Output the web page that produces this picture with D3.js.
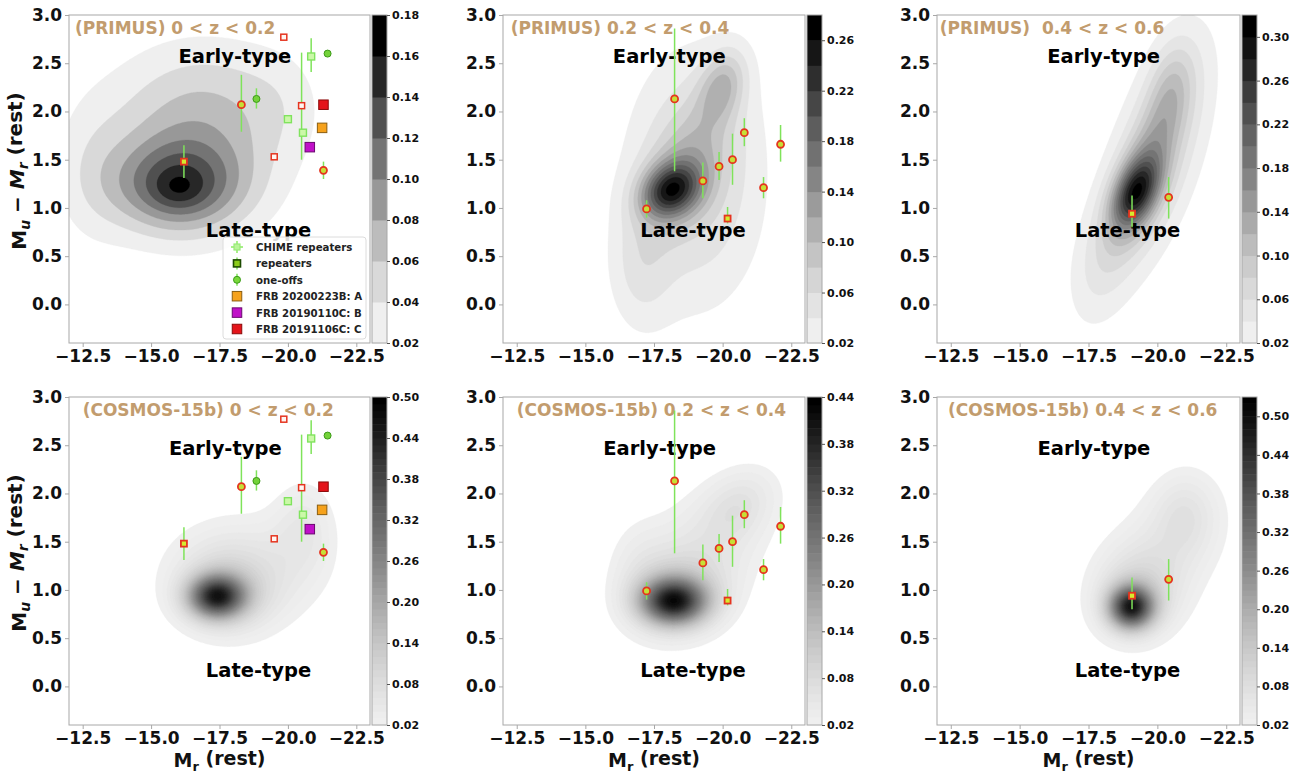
<!DOCTYPE html>
<html>
<head>
<meta charset="utf-8">
<script src="https://cdn.jsdelivr.net/npm/d3@7"></script>
<style>
  body { margin: 0; background: #fff; }
  svg text { font-family: "DejaVu Sans", sans-serif; font-weight: bold; }
</style>
</head>
<body>
<svg id="fig" width="1301" height="775"></svg>
<script>
// ---- data ----
const xDomain = [-12, -23];
const yDomain = [-0.4, 3.0];
const xTickVals = [-12.5, -15.0, -17.5, -20.0, -22.5];
const yTickVals = [0.0, 0.5, 1.0, 1.5, 2.0, 2.5, 3.0];

const titles = ["(PRIMUS) 0 < z < 0.2", "(PRIMUS) 0.2 < z < 0.4", "(PRIMUS)\u00a0 0.4 < z < 0.6",
                "(COSMOS-15b) 0 < z < 0.2", "(COSMOS-15b) 0.2 < z < 0.4", "(COSMOS-15b) 0.4 < z < 0.6"];
const titleX = [-12.22, -12.28, -12.1, -12.5, -12.5, -12.4];

const cbarTop = [0.18, 0.28, 0.32, 0.50, 0.44, 0.53];
const cbarStep = [0.02, 0.02, 0.02, 0.01, 0.01, 0.01];
const cbarTicks = [
  [0.02, 0.04, 0.06, 0.08, 0.10, 0.12, 0.14, 0.16, 0.18],
  [0.02, 0.06, 0.10, 0.14, 0.18, 0.22, 0.26],
  [0.02, 0.06, 0.10, 0.14, 0.18, 0.22, 0.26, 0.30],
  [0.02, 0.08, 0.14, 0.20, 0.26, 0.32, 0.38, 0.44, 0.50],
  [0.02, 0.08, 0.14, 0.20, 0.26, 0.32, 0.38, 0.44],
  [0.02, 0.08, 0.14, 0.20, 0.26, 0.32, 0.38, 0.44, 0.50]
];

// galaxy density, as gaussian pieces: [Mr, color, sigmaMr, sigmaColor, rho, peak]
const kdePrimus1 = [
  [-16.0, 1.22, 1.6, 0.32, 0.0, 0.095],
  [-16.3, 1.40, 2.4, 0.55, 0.0, 0.045],
  [-16.0, 1.20, 0.6, 0.13, 0.0, 0.020],
  [-17.0, 2.10, 2.4, 0.50, 0.0, 0.045],
  [-12.8, 1.35, 1.0, 0.55, 0.0, 0.020],
  [-19.8, 2.10, 1.0, 0.40, 0.0, 0.010]
];
const kdePrimus2 = [
  [-19.0, 1.30, 1.7, 0.90, 0.0, 0.065],
  [-17.0, 0.35, 0.8, 0.45, 0.0, 0.035],
  [-18.1, 1.18, 0.75, 0.20, -0.20, 0.170],
  [-18.7, 1.45, 1.1, 0.45, -0.50, 0.050],
  [-20.0, 2.27, 0.6, 0.26, -0.30, 0.075]
];
const kdePrimus3 = [
  [-19.9, 1.50, 1.4, 0.85, -0.60, 0.070],
  [-19.2, 1.15, 0.6, 0.25, -0.40, 0.170],
  [-19.5, 1.35, 0.9, 0.55, -0.70, 0.080],
  [-20.5, 2.26, 0.6, 0.35, -0.30, 0.050],
  [-17.8, 0.40, 0.8, 0.45, -0.30, 0.025]
];
const kdeCosmos1 = [
  [-17.4, 0.93, 0.7, 0.15, 0.0, 0.360],
  [-17.8, 1.00, 1.2, 0.30, 0.0, 0.080],
  [-18.4, 1.20, 2.0, 0.42, 0.0, 0.045],
  [-20.6, 1.65, 0.8, 0.35, 0.0, 0.040]
];
const kdeCosmos2 = [
  [-18.2, 0.88, 0.8, 0.16, 0.0, 0.320],
  [-18.4, 0.95, 1.2, 0.28, 0.0, 0.070],
  [-19.2, 1.35, 1.8, 0.55, -0.45, 0.050],
  [-20.6, 1.88, 0.9, 0.25, -0.30, 0.040],
  [-16.9, 1.30, 0.8, 0.35, 0.0, 0.020]
];
const kdeCosmos3 = [
  [-19.05, 0.82, 0.55, 0.15, 0.0, 0.400],
  [-19.3, 0.95, 1.0, 0.30, 0.0, 0.070],
  [-20.0, 1.30, 1.6, 0.50, -0.40, 0.050],
  [-21.0, 1.80, 0.8, 0.30, 0.0, 0.045]
];

// FRB hosts: [Mr, color, errLow, errHigh, kind]
const hostsBin1 = [
  [-19.85, 2.77, null, null, "rep"],
  [-20.85, 2.57, 2.41, 2.76, "chime"],
  [-21.45, 2.60, null, null, "one"],
  [-18.30, 2.07, 1.79, 2.38, "oneRed"],
  [-18.85, 2.13, 2.03, 2.24, "one"],
  [-20.50, 2.06, 1.50, 2.61, "rep"],
  [-20.00, 1.92, null, null, "chime"],
  [-20.55, 1.78, null, null, "chime"],
  [-21.30, 2.07, null, null, "C"],
  [-21.25, 1.83, null, null, "A"],
  [-20.80, 1.63, null, null, "B"],
  [-19.50, 1.53, null, null, "rep"],
  [-21.30, 1.39, 1.30, 1.48, "oneRed"],
  [-16.20, 1.48, 1.31, 1.65, "repFill"]
];
const hostsBin2 = [
  [-18.25, 2.13, 1.38, 2.86, "oneRed"],
  [-17.23, 0.99, 0.90, 1.08, "oneRed"],
  [-19.28, 1.28, 1.10, 1.47, "oneRed"],
  [-19.87, 1.43, 1.29, 1.58, "oneRed"],
  [-20.36, 1.50, 1.24, 1.77, "oneRed"],
  [-20.79, 1.78, 1.64, 1.93, "oneRed"],
  [-22.11, 1.66, 1.48, 1.86, "oneRed"],
  [-21.49, 1.21, 1.10, 1.32, "oneRed"],
  [-20.18, 0.89, 0.84, 1.01, "repFill"]
];
const hostsBin3 = [
  [-19.08, 0.94, 0.80, 1.13, "repFill"],
  [-20.41, 1.11, 0.89, 1.32, "oneRed"]
];

const legendLabels = ["CHIME repeaters", "repeaters", "one-offs",
                      "FRB 20200223B: A", "FRB 20190110C: B", "FRB 20191106C: C"];
const legendKinds = ["chimeLeg", "repLeg", "oneLeg", "A", "B", "C"];

// ---- styles / layout ----
const markerStyle = {
  chime:   {shape: "sq", size: 7,   fill: "#cbf8a8", stroke: "#80e35e", sw: 1.4},
  rep:     {shape: "sq", size: 6,   fill: "#fff6f2", stroke: "#e5341f", sw: 1.5},
  repFill: {shape: "sq", size: 6,   fill: "#d5ea2e", stroke: "#e5341f", sw: 1.8},
  one:     {shape: "ci", size: 7,   fill: "#74d23a", stroke: "#3c9a18", sw: 1},
  oneRed:  {shape: "ci", size: 7,   fill: "#c6df36", stroke: "#e5341f", sw: 1.8},
  A:       {shape: "sq", size: 9.5, fill: "#f6a21c", stroke: "#8b5e10", sw: 1},
  B:       {shape: "sq", size: 9.5, fill: "#c010c8", stroke: "#6a0870", sw: 1},
  C:       {shape: "sq", size: 9.5, fill: "#e4141a", stroke: "#8a0a0a", sw: 1},
  chimeLeg:{shape: "sq", size: 6,   fill: "#b8f598", stroke: "#98ea78", sw: 1.2},
  repLeg:  {shape: "sq", size: 7,   fill: "#8ccc1a", stroke: "#1c4a00", sw: 1.6},
  oneLeg:  {shape: "ci", size: 7,   fill: "#78d83a", stroke: "#3a9a18", sw: 1}
};
const errColor = "#7fe35a";
const titleColor = "#c29c6e";
const frameColor = "#a8a8a8";

const cols = [{x0: 69, x1: 370, cb0: 372}, {x0: 503, x1: 805, cb0: 807}, {x0: 937, x1: 1240, cb0: 1242}];
const rows = [{y0: 15, y1: 343}, {y0: 397, y1: 725}];
const cbW = 15;

const kdes = [kdePrimus1, kdePrimus2, kdePrimus3, kdeCosmos1, kdeCosmos2, kdeCosmos3];
const hostBins = [hostsBin1, hostsBin2, hostsBin3];

function density(comps, mx, cy) {
  let s = 0;
  comps.forEach(([cx, cc, sx, sy, rho, a]) => {
    const dx = (mx - cx) / sx, dy = (cy - cc) / sy;
    const q = (dx * dx - 2 * rho * dx * dy + dy * dy) / (1 - rho * rho);
    s += a * Math.exp(-0.5 * q);
  });
  return s;
}

function drawMarker(g, kind, px, py) {
  const st = markerStyle[kind];
  if (st.shape === "sq") {
    g.append("rect").attr("x", px - st.size / 2).attr("y", py - st.size / 2)
      .attr("width", st.size).attr("height", st.size)
      .attr("fill", st.fill).attr("stroke", st.stroke).attr("stroke-width", st.sw);
  } else {
    g.append("circle").attr("cx", px).attr("cy", py).attr("r", st.size / 2)
      .attr("fill", st.fill).attr("stroke", st.stroke).attr("stroke-width", st.sw);
  }
}

const svg = d3.select("#fig");
const defs = svg.append("defs");
const nx = 200, ny = 150;
const gx = d3.scaleLinear().domain([0, nx]).range(xDomain);
const gy = d3.scaleLinear().domain([0, ny]).range([yDomain[1], yDomain[0]]);

kdes.forEach((comps, idx) => {
  const c = cols[idx % 3], r = rows[Math.floor(idx / 3)];
  const x = d3.scaleLinear().domain(xDomain).range([c.x0, c.x1]);
  const y = d3.scaleLinear().domain(yDomain).range([r.y1, r.y0]);
  const g = svg.append("g");

  defs.append("clipPath").attr("id", "clip" + idx).append("rect")
    .attr("x", c.x0).attr("y", r.y0).attr("width", c.x1 - c.x0).attr("height", r.y1 - r.y0);

  // density grid -> filled contours
  const values = new Array(nx * ny);
  for (let j = 0; j < ny; j++)
    for (let i = 0; i < nx; i++)
      values[j * nx + i] = density(comps, gx(i + 0.5), gy(j + 0.5));

  const nBands = Math.round((cbarTop[idx] - 0.02) / cbarStep[idx]);
  const levels = d3.range(nBands + 1).map(k => +(0.02 + k * cbarStep[idx]).toFixed(3));
  const color = k => d3.interpolateGreys(0.12 + 0.88 * k / (nBands - 1));
  const proj = d3.geoTransform({point: function(px, py) { this.stream.point(x(gx(px)), y(gy(py))); }});
  const path = d3.geoPath(proj);
  const conts = d3.contours().size([nx, ny]).thresholds(levels.slice(0, nBands))(values);

  g.append("g").attr("clip-path", "url(#clip" + idx + ")")
    .selectAll("path").data(conts).join("path")
    .attr("d", path)
    .attr("fill", (d, k) => color(k))
    .attr("stroke", (d, k) => color(k))
    .attr("stroke-width", 0.3);

  // axes
  const xAxis = d3.axisBottom(x).tickValues(xTickVals).tickFormat(d3.format(".1f")).tickSize(4).tickPadding(3);
  const yAxis = d3.axisLeft(y).tickValues(yTickVals).tickFormat(d3.format(".1f")).tickSize(4).tickPadding(3);
  const ax = g.append("g").attr("transform", "translate(0," + r.y1 + ")").call(xAxis);
  const ay = g.append("g").attr("transform", "translate(" + c.x0 + ",0)").call(yAxis);
  [ax, ay].forEach(a => {
    a.select(".domain").remove();
    a.selectAll(".tick line").attr("stroke", frameColor);
    a.selectAll(".tick text").attr("fill", "#111").style("font-size", "17px");
  });
  g.append("rect").attr("x", c.x0).attr("y", r.y0).attr("width", c.x1 - c.x0).attr("height", r.y1 - r.y0)
    .attr("fill", "none").attr("stroke", frameColor).attr("stroke-width", 1);

  // colorbar
  const cy = d3.scaleLinear().domain([0.02, cbarTop[idx]]).range([r.y1, r.y0]);
  const cb = g.append("g");
  cb.selectAll("rect").data(d3.range(nBands)).join("rect")
    .attr("x", c.cb0).attr("width", cbW)
    .attr("y", k => cy(levels[k + 1]))
    .attr("height", k => cy(levels[k]) - cy(levels[k + 1]) + 0.5)
    .attr("fill", k => color(k));
  cb.append("rect").attr("x", c.cb0).attr("y", r.y0).attr("width", cbW).attr("height", r.y1 - r.y0)
    .attr("fill", "none").attr("stroke", frameColor).attr("stroke-width", 1);
  const cAxis = d3.axisRight(cy).tickValues(cbarTicks[idx]).tickFormat(d3.format(".2f")).tickSize(3).tickPadding(2);
  const ac = cb.append("g").attr("transform", "translate(" + (c.cb0 + cbW) + ",0)").call(cAxis);
  ac.select(".domain").remove();
  ac.selectAll(".tick line").attr("stroke", "#555");
  ac.selectAll(".tick text").attr("fill", "#111").style("font-size", "11px");

  // labels
  const top = idx < 3;
  g.append("text").attr("x", x(titleX[idx])).attr("y", y(2.80))
    .attr("fill", titleColor).style("font-size", "17px").text(titles[idx]);
  g.append("text").attr("x", x(top ? -16.0 : -15.65)).attr("y", y(top ? 2.5 : 2.4))
    .attr("fill", "#000").style("font-size", "19.5px").text("Early-type");
  g.append("text").attr("x", x(-17.0)).attr("y", y(top ? 0.7 : 0.1))
    .attr("fill", "#000").style("font-size", "19.5px").text("Late-type");

  // FRB hosts
  const hosts = hostBins[idx % 3];
  const hg = g.append("g");
  hosts.filter(h => h[2] !== null).forEach(h => {
    hg.append("line").attr("x1", x(h[0])).attr("x2", x(h[0]))
      .attr("y1", y(h[2])).attr("y2", y(h[3]))
      .attr("stroke", errColor).attr("stroke-width", 1.5);
  });
  hosts.forEach(h => drawMarker(hg, h[4], x(h[0]), y(h[1])));

  // legend (first panel only)
  if (idx === 0) {
    const lg = g.append("g");
    const lx = 223, ly = 237;
    lg.append("rect").attr("x", lx).attr("y", ly).attr("width", 143).attr("height", 102).attr("rx", 3)
      .attr("fill", "#fff").attr("fill-opacity", 0.85).attr("stroke", "#dcdcdc");
    legendLabels.forEach((lab, k) => {
      const my = ly + 10 + k * 16.4;
      const mx = lx + 14;
      if (legendKinds[k] === "chimeLeg") {
        lg.append("line").attr("x1", mx).attr("x2", mx).attr("y1", my - 6).attr("y2", my + 6)
          .attr("stroke", "#a8f088").attr("stroke-width", 2);
        lg.append("line").attr("x1", mx - 6).attr("x2", mx + 6).attr("y1", my).attr("y2", my)
          .attr("stroke", "#a8f088").attr("stroke-width", 2);
      }
      if (legendKinds[k] === "oneLeg" || legendKinds[k] === "repLeg") {
        lg.append("line").attr("x1", mx).attr("x2", mx).attr("y1", my - 6).attr("y2", my + 6)
          .attr("stroke", errColor).attr("stroke-width", 1.5);
      }
      drawMarker(lg, legendKinds[k], mx, my);
      lg.append("text").attr("x", lx + 33).attr("y", my + 4)
        .attr("fill", "#222").style("font-size", "10.2px").text(lab);
    });
  }

  // axis titles
  if (idx % 3 === 0) {
    const t = g.append("text").attr("transform", "translate(26," + ((r.y0 + r.y1) / 2 - 8) + ") rotate(-90)")
      .attr("text-anchor", "middle").attr("fill", "#111").style("font-size", "20px");
    t.append("tspan").text("M");
    t.append("tspan").attr("dy", "0.3em").style("font-size", "14px").style("font-style", "italic").text("u");
    t.append("tspan").attr("dy", "-0.3em").text(" \u2212 ");
    t.append("tspan").style("font-style", "italic").text("M");
    t.append("tspan").attr("dy", "0.3em").style("font-size", "14px").style("font-style", "italic").text("r");
    t.append("tspan").attr("dy", "-0.3em").text(" (rest)");
  }
  if (!top) {
    const t = g.append("text").attr("x", (c.x0 + c.x1) / 2).attr("y", 767)
      .attr("text-anchor", "middle").attr("fill", "#111").style("font-size", "19px");
    t.append("tspan").text("M");
    t.append("tspan").attr("dy", "0.3em").style("font-size", "13px").text("r");
    t.append("tspan").attr("dy", "-0.3em").text(" (rest)");
  }
});
</script>
</body>
</html>
